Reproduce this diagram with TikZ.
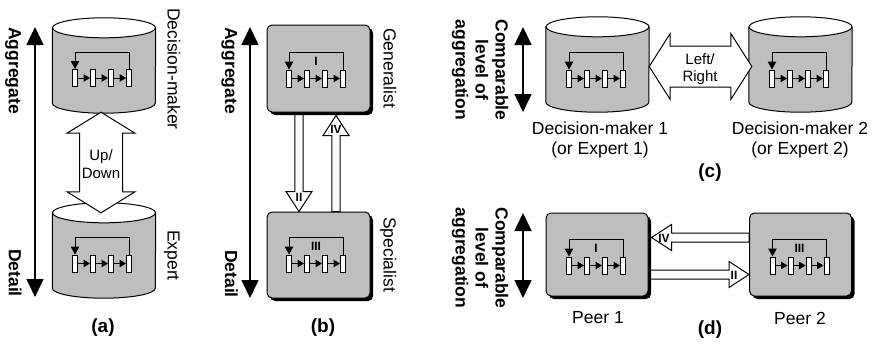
\documentclass[tikz,border=0pt]{standalone}
\usepackage{fontspec}
\setmainfont{Liberation Sans}
\usetikzlibrary{calc,arrows.meta,shadows,backgrounds}
\definecolor{BodyGray}{RGB}{190,190,192}
\tikzset{
    lbl/.style = {font=\fontsize{17.5}{20}\selectfont, inner sep=0pt},
    boldlbl/.style = {font=\fontsize{17.5}{20}\selectfont\bfseries, inner sep=0pt},
    sidelbl/.style = {rotate=-90, anchor=base west},
    smalllbl/.style = {font=\fontsize{15}{17.5}\selectfont, inner sep=0pt, align=center},
    panellbl/.style = {font=\fontsize{19}{22}\selectfont\bfseries, inner sep=0pt},
    numeral/.style = {font=\fontsize{12}{13}\selectfont\bfseries, inner sep=0pt},
    axisarrow/.style = {line width=1.6pt, {Triangle[length=18pt,width=17pt]}-{Triangle[length=18pt,width=17pt]}},
    blockarrow/.style = {draw, fill=white, line width=1pt, line join=miter},
    cylline/.style = {line width=1pt},
    cylbody/.style = {minimum width=103pt, minimum height=75pt, inner sep=0pt},
    roundbox/.style = {draw, line width=1pt, fill=BodyGray, rounded corners=5pt,
        minimum width=103pt, minimum height=86pt, inner sep=0pt,
        drop shadow={shadow xshift=3pt, shadow yshift=-3pt, opacity=1, fill=black}},
    cell/.style = {draw, fill=white, line width=1pt, minimum width=5pt, minimum height=17pt, inner sep=0pt},
    cellarrow/.style = {line width=1pt, -{Triangle[length=6.5pt,width=7.5pt]}},
    looparrow/.style = {line width=1pt, -{Triangle[length=8pt,width=8.5pt]}},
    pics/loopflow/.style = {code={
        \foreach \k/\xc in {1/-27,2/-9,3/9,4/27}
            \node[cell] (-c\k) at (\xc,0) {};
        \foreach \k/\m in {1/2,2/3,3/4}
            \draw[cellarrow] (-c\k) -- (-c\m);
        \draw[looparrow] (-c4.north) -- ++(0,-17) -| (-c1.north);
        \node[numeral] (-num) at (0,-17.5) {#1};
    }}
}
% cylinder drawn round an empty node
\newcommand{\drawcyl}[1]{%
    \fill[BodyGray] (#1.north west) -- (#1.south west) arc[start angle=180, end angle=360, x radius=51.5pt, y radius=10pt] -- (#1.north east) -- cycle;
    \draw[cylline] (#1.north west) -- (#1.south west) arc[start angle=180, end angle=360, x radius=51.5pt, y radius=10pt] -- (#1.north east);
    \draw[cylline, fill=white] (#1.north) ellipse [x radius=51.5pt, y radius=10pt];
}
% tail, tip, half shaft, half head, head length
\newcommand{\singleblock}[5]{%
    \draw[blockarrow] ($(#1)!#3!90:(#2)$) -- ($(#2)!#5!(#1)!#3!90:(#2)$) -- ($(#2)!#5!(#1)!#4!90:(#2)$) -- (#2)
        -- ($(#2)!#5!(#1)!#4!-90:(#2)$) -- ($(#2)!#5!(#1)!#3!-90:(#2)$) -- ($(#1)!#3!-90:(#2)$) -- cycle;
}
\newcommand{\doubleblock}[5]{%
    \draw[blockarrow] (#1) -- ($(#1)!#5!(#2)!#4!90:(#2)$) -- ($(#1)!#5!(#2)!#3!90:(#2)$) -- ($(#2)!#5!(#1)!#3!-90:(#1)$)
        -- ($(#2)!#5!(#1)!#4!-90:(#1)$) -- (#2) -- ($(#2)!#5!(#1)!#4!90:(#1)$) -- ($(#2)!#5!(#1)!#3!90:(#1)$)
        -- ($(#1)!#5!(#2)!#3!-90:(#2)$) -- ($(#1)!#5!(#2)!#4!-90:(#2)$) -- cycle;
}

\begin{document}
\begin{tikzpicture}[x=1pt, y=-1pt]
    \useasboundingbox (0,0) rectangle (877,348);

    % (a)
    \coordinate (aTop) at (35,27);
    \coordinate (aBot) at (35,297);
    \draw[axisarrow] (aTop) -- (aBot);
    \node[boldlbl, sidelbl] (aggA) at (9,27) {Aggregate};
    \node[boldlbl, rotate=-90, anchor=base east] (detA) at (9,297) {Detail};
    \node[cylbody] (dm) at (104,65.5) {};
    \node[cylbody] (ex) at (104,250.5) {};
    \drawcyl{dm}
    \drawcyl{ex}
    \pic (dmflow) at (102,78) {loopflow={}};
    \pic (exflow) at (102,263.5) {loopflow={}};
    \coordinate (udA) at ($(dm.south)+(-3,9)$);
    \coordinate (udB) at ($(ex.north)+(-3,0)$);
    \doubleblock{udA}{udB}{21.5pt}{34pt}{21pt}
    \node[smalllbl] (updown) at (101,164) {Up/\\Down};
    \node[lbl, sidelbl] (dmlbl) at (167.5,8) {Decision-maker};
    \node[lbl, sidelbl] (exlbl) at (167.5,230) {Expert};
    \node[panellbl] (pa) at (103,328) {(a)};

    % (b)
    \coordinate (bTop) at (250,27);
    \coordinate (bBot) at (250,298);
    \draw[axisarrow] (bTop) -- (bBot);
    \node[boldlbl, sidelbl] (aggB) at (225,27) {Aggregate};
    \node[boldlbl, rotate=-90, anchor=base east] (detB) at (225,298) {Detail};
    \node[roundbox, minimum height=87pt] (gen) at (318.5,68.5) {};
    \node[roundbox] (spec) at (318.5,255) {};
    \pic (genflow) at (316,78.5) {loopflow={I}};
    \pic (specflow) at (316,263.5) {loopflow={III}};
    \begin{scope}[on background layer]
        \coordinate (iiT) at ($(gen.south)+(-19.5,0)$);
        \coordinate (iiP) at ($(spec.north)+(-19.5,0)$);
        \coordinate (ivT) at ($(spec.north)+(17.5,0)$);
        \coordinate (ivP) at ($(gen.south)+(17.5,3)$);
        \singleblock{iiT}{iiP}{4.2pt}{13pt}{20pt}
        \singleblock{ivT}{ivP}{4.2pt}{13pt}{20pt}
    \end{scope}
    \node[numeral] (iiB) at (299,197) {II};
    \node[numeral] (ivB) at (336,129) {IV};
    \node[lbl, sidelbl] (genlbl) at (383.5,28) {Generalist};
    \node[lbl, sidelbl] (speclbl) at (383.5,217) {Specialist};
    \node[panellbl] (pb) at (323,328) {(b)};

    % (c)
    \coordinate (cTop) at (523,27);
    \coordinate (cBot) at (523,112);
    \draw[axisarrow] (cTop) -- (cBot);
    \node[boldlbl, rotate=-90, align=center] (cmpC) at (480,70) {Comparable\\level of\\aggregation};
    \node[cylbody] (dm1) at (597.5,64.5) {};
    \node[cylbody] (dm2) at (800.5,64.5) {};
    \drawcyl{dm1}
    \drawcyl{dm2}
    \pic (dm1flow) at (596,78.5) {loopflow={}};
    \pic (dm2flow) at (799,78.5) {loopflow={}};
    \coordinate (lrA) at ($(dm1.east)+(0,2)$);
    \coordinate (lrB) at ($(dm2.west)+(3,2)$);
    \doubleblock{lrA}{lrB}{20.5pt}{33pt}{21pt}
    \node[smalllbl] (leftright) at (700,69) {Left/\\Right};
    \node[lbl, align=center] (dm1lbl) at (600,140) {Decision-maker 1\\(or Expert 1)};
    \node[lbl, align=center] (dm2lbl) at (800,140) {Decision-maker 2\\(or Expert 2)};
    \node[panellbl] (pc) at (710,173) {(c)};

    % (d)
    \coordinate (dTop) at (523,213);
    \coordinate (dBot) at (523,298);
    \draw[axisarrow] (dTop) -- (dBot);
    \node[boldlbl, rotate=-90, align=center] (cmpD) at (480,258) {Comparable\\level of\\aggregation};
    \node[roundbox, minimum width=102pt, minimum height=83pt] (p1) at (597,254.5) {};
    \node[roundbox, minimum width=102pt, minimum height=83pt] (p2) at (800.5,254.5) {};
    \pic (p1flow) at (596,265.5) {loopflow={I}};
    \pic (p2flow) at (799.5,265.5) {loopflow={III}};
    \begin{scope}[on background layer]
        \coordinate (ivdT) at ($(p2.west)+(0,-17)$);
        \coordinate (ivdP) at ($(p1.east)+(3,-17)$);
        \coordinate (iidT) at ($(p1.east)+(0,20)$);
        \coordinate (iidP) at ($(p2.west)+(0,20)$);
        \singleblock{ivdT}{ivdP}{4.5pt}{13pt}{20pt}
        \singleblock{iidT}{iidP}{4.5pt}{13pt}{20pt}
    \end{scope}
    \node[numeral] (ivD) at (664,238) {IV};
    \node[numeral] (iiD) at (734,275) {II};
    \node[lbl] (p1lbl) at (598,318) {Peer 1};
    \node[lbl] (p2lbl) at (800,318) {Peer 2};
    \node[panellbl] (pd) at (710,330) {(d)};
\end{tikzpicture}
\end{document}
